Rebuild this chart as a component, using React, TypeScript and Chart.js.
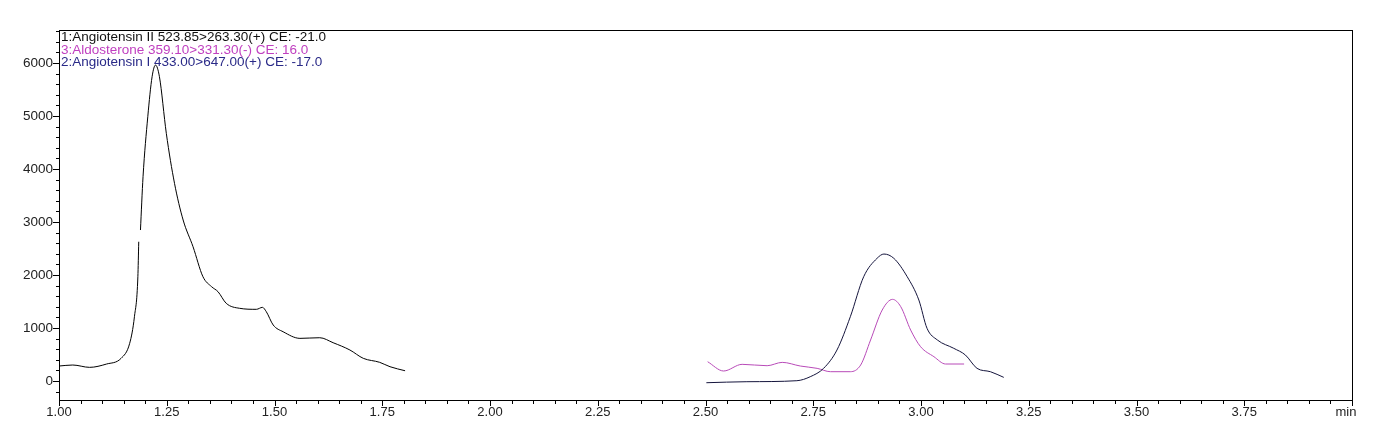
import React, { useEffect, useRef } from 'react';
import { Chart, registerables } from 'chart.js';

Chart.register(...registerables);

// Trace 1: Angiotensin II (black); null marks the small break in the recorded trace
const ang2Time = [1.0, 1.032, 1.071, 1.11, 1.144, 1.164, 1.175, 1.183, 1.185, 1.187, 1.189, 1.195, 1.206, 1.216, 1.224, 1.233, 1.249, 1.268, 1.288, 1.311, 1.334, 1.354, 1.369, 1.388, 1.419, 1.458, 1.472, 1.481, 1.497, 1.52, 1.559, 1.605, 1.636, 1.675, 1.706, 1.744, 1.768, 1.803];
const ang2Int = [283, 302, 258, 320, 428, 711, 1213, 1968, 2628, null, 2849, 3855, 4987, 5742, 5962, 5742, 4673, 3730, 3038, 2534, 1968, 1780, 1685, 1466, 1372, 1353, 1390, 1308, 1057, 930, 805, 817, 723, 585, 428, 353, 270, 194];

// Trace 2: Angiotensin I (dark navy)
const ang1Time = [2.502, 2.596, 2.712, 2.743, 2.774, 2.805, 2.836, 2.867, 2.898, 2.914, 2.937, 2.968, 2.995, 3.014, 3.038, 3.076, 3.103, 3.13, 3.161, 3.192];
const ang1Int = [-32, -13, 6, 81, 239, 585, 1213, 1968, 2315, 2396, 2315, 1968, 1528, 994, 774, 617, 491, 239, 176, 69];

// Trace 3: Aldosterone (magenta)
const aldoTime = [2.505, 2.542, 2.585, 2.643, 2.678, 2.72, 2.759, 2.79, 2.836, 2.86, 2.883, 2.91, 2.934, 2.953, 2.976, 2.999, 3.03, 3.057, 3.1];
const aldoInt = [364, 189, 315, 289, 352, 283, 239, 176, 176, 302, 774, 1340, 1541, 1403, 962, 648, 459, 321, 321];

const xTickValues = [1.0, 1.25, 1.5, 1.75, 2.0, 2.25, 2.5, 2.75, 3.0, 3.25, 3.5, 3.75, 4.0];
const xTickLabels = ['1.00', '1.25', '1.50', '1.75', '2.00', '2.25', '2.50', '2.75', '3.00', '3.25', '3.50', '3.75', 'min'];
const yTickValues = [0, 1000, 2000, 3000, 4000, 5000, 6000];
const yTickLabels = ['0', '1000', '2000', '3000', '4000', '5000', '6000'];

const legendLines = [
  '1:Angiotensin II 523.85>263.30(+) CE: -21.0',
  '3:Aldosterone 359.10>331.30(-) CE: 16.0',
  '2:Angiotensin I 433.00>647.00(+) CE: -17.0',
];
const legendColors = ['#111111', '#c040c0', '#2a2a88'];

const toPoints = (xs: number[], ys: (number | null)[]) => xs.map((x, i) => ({ x, y: ys[i] }));

const FONT = "'Liberation Sans', Arial, sans-serif";

const decorPlugin = {
  id: 'decor',
  afterDraw(chart: any) {
    const ctx = chart.ctx;
    const area = chart.chartArea;
    const xs = chart.scales.x;
    const ys = chart.scales.y;
    ctx.save();
    ctx.strokeStyle = '#000';
    ctx.lineWidth = 1;
    ctx.strokeRect(Math.round(area.left) + 0.5, Math.round(area.top) + 0.5, Math.round(area.right - area.left), Math.round(area.bottom - area.top));
    ctx.beginPath();
    const b = Math.round(area.bottom) + 1;
    for (let k = Math.ceil(xs.min * 20); k <= Math.floor(xs.max * 20 + 1e-6); k++) {
      const major = k % 5 === 0;
      const px = Math.round(xs.getPixelForValue(k / 20)) + 0.5;
      ctx.moveTo(px, b);
      ctx.lineTo(px, b + (major ? 5 : 3));
    }
    const l = Math.round(area.left);
    for (let k = Math.ceil(ys.min / 200); k <= Math.floor(ys.max / 200); k++) {
      const major = k % 5 === 0;
      const py = Math.round(ys.getPixelForValue(k * 200)) + 0.5;
      ctx.moveTo(l, py);
      ctx.lineTo(l - (major ? 6 : 3), py);
    }
    ctx.stroke();

    // tick labels
    ctx.fillStyle = '#222';
    ctx.font = `13px ${FONT}`;
    ctx.textBaseline = 'top';
    ctx.textAlign = 'center';
    xTickValues.forEach((v, i) => {
      const px = xs.getPixelForValue(v);
      const isUnit = xTickLabels[i] === 'min';
      ctx.fillText(xTickLabels[i], px - (isUnit ? 6 : 0), b + 5);
    });
    ctx.font = `13.5px ${FONT}`;
    ctx.textBaseline = 'middle';
    ctx.textAlign = 'right';
    yTickValues.forEach((v, i) => {
      const py = ys.getPixelForValue(v);
      ctx.fillText(yTickLabels[i], l - 6, py + 0.5);
    });

    // trace legend
    ctx.font = `13.5px ${FONT}`;
    ctx.textBaseline = 'middle';
    ctx.textAlign = 'left';
    legendLines.forEach((s, i) => {
      ctx.fillStyle = legendColors[i];
      ctx.fillText(s, area.left + 2, 37.5 + i * 12.5);
    });
    ctx.restore();
  },
};

export default function App() {
  const ref = useRef<HTMLCanvasElement | null>(null);
  useEffect(() => {
    document.body.style.margin = '0';
    if (!ref.current) return;
    const chart = new Chart(ref.current, {
      type: 'line',
      data: {
        datasets: [
          { label: 'Angiotensin II', data: toPoints(ang2Time, ang2Int), borderColor: '#000000', borderWidth: 1, pointRadius: 0, cubicInterpolationMode: 'monotone', fill: false, spanGaps: false },
          { label: 'Angiotensin I', data: toPoints(ang1Time, ang1Int), borderColor: '#14143c', borderWidth: 1, pointRadius: 0, cubicInterpolationMode: 'monotone', fill: false },
          { label: 'Aldosterone', data: toPoints(aldoTime, aldoInt), borderColor: '#b84ab8', borderWidth: 1, pointRadius: 0, cubicInterpolationMode: 'monotone', fill: false },
        ],
      },
      options: {
        animation: false,
        responsive: false,
        layout: { padding: { top: 30, right: 31, left: 0, bottom: 0 } },
        plugins: { legend: { display: false }, tooltip: { enabled: false }, title: { display: false } },
        scales: {
          x: {
            type: 'linear',
            min: 1,
            max: 4,
            grid: { display: false, drawTicks: false },
            border: { display: false },
            ticks: { display: false },
            afterFit: (s: any) => { s.height = 45; },
          },
          y: {
            type: 'linear',
            position: 'left',
            min: -358,
            max: 6623,
            grid: { display: false, drawTicks: false },
            border: { display: false },
            ticks: { display: false },
            afterFit: (s: any) => { s.width = 59; },
          },
        },
      },
      plugins: [decorPlugin],
    } as any);
    return () => chart.destroy();
  }, []);
  return <canvas ref={ref} width={1383} height={445} style={{ display: 'block' }} />;
}
